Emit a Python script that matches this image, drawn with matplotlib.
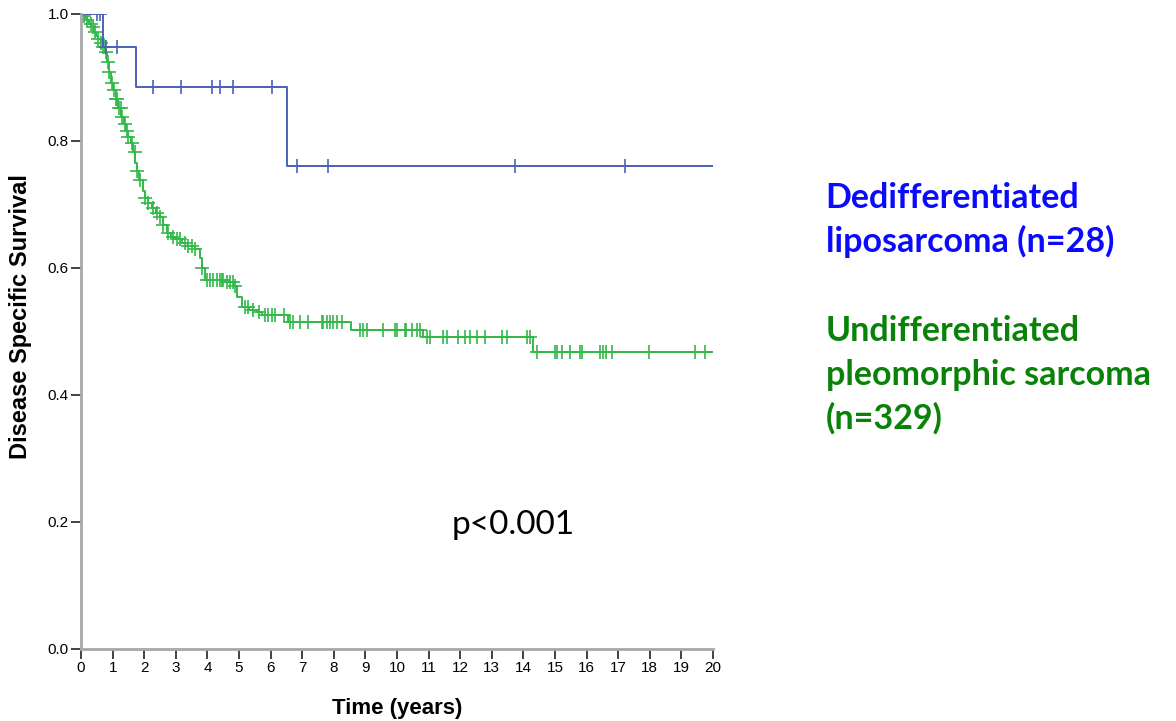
import numpy as np
import matplotlib
matplotlib.use("Agg")
import matplotlib.pyplot as plt

# Dedifferentiated liposarcoma (n=28): event times (years) and survival after each event
ddl_event_t = [0.70, 1.74, 6.52]
ddl_event_s = [0.948, 0.885, 0.761]
ddl_censor = [0.49, 0.60, 0.78, 1.15, 2.27, 3.15, 4.13, 4.40, 4.82, 6.03,
              6.82, 7.82, 13.73, 17.20]

# Undifferentiated pleomorphic sarcoma (n=329)
ups_event_t = [0.05, 0.12, 0.18, 0.25, 0.32, 0.40, 0.48, 0.55, 0.62, 0.70,
               0.76, 0.82, 0.88, 0.95, 1.02, 1.10, 1.18, 1.27, 1.35, 1.43,
               1.50, 1.58, 1.65, 1.72, 1.78, 1.85, 1.95, 2.03, 2.12, 2.24,
               2.38, 2.50, 2.60, 2.71, 2.85, 3.00, 3.20, 3.40, 3.60, 3.75,
               3.82, 3.92, 4.52, 4.84, 4.95, 5.09, 5.30, 5.58, 5.74, 6.55,
               8.55, 10.82, 14.30]
ups_event_s = [0.997, 0.994, 0.991, 0.985, 0.979, 0.972, 0.966, 0.960, 0.954, 0.948,
               0.940, 0.925, 0.908, 0.892, 0.880, 0.866, 0.852, 0.838, 0.826, 0.815,
               0.806, 0.797, 0.782, 0.766, 0.752, 0.738, 0.722, 0.710, 0.702, 0.694,
               0.687, 0.681, 0.668, 0.655, 0.649, 0.645, 0.640, 0.635, 0.630, 0.615,
               0.600, 0.581, 0.578, 0.571, 0.555, 0.539, 0.534, 0.531, 0.526, 0.515,
               0.503, 0.492, 0.468]
ups_censor = [0.10, 0.20, 0.30, 0.38, 0.45, 0.55, 0.62, 0.70, 0.75, 0.80,
              0.85, 0.90, 0.97, 1.05, 1.10, 1.15, 1.20, 1.25, 1.30, 1.38,
              1.45, 1.50, 1.60, 1.70, 1.78, 1.87, 2.03, 2.13, 2.29, 2.39,
              2.50, 2.60, 2.76, 2.92, 3.03, 3.13, 3.29, 3.40, 3.50, 3.61,
              3.82, 3.98, 4.08, 4.19, 4.29, 4.40, 4.45, 4.50, 4.61, 4.70,
              4.80, 4.87, 5.19, 5.29, 5.45, 5.62, 5.82, 5.93, 6.03, 6.14,
              6.43, 6.61, 6.72, 6.93, 7.19, 7.62, 7.67, 7.78, 7.88, 7.98,
              8.09, 8.25, 8.83, 8.93, 9.04, 9.57, 9.94, 9.99, 10.25, 10.30,
              10.47, 10.62, 10.73, 10.94, 11.04, 11.47, 11.57, 11.94, 12.15, 12.31,
              12.52, 12.78, 13.31, 13.47, 14.10, 14.21, 14.42, 15.00, 15.05, 15.21,
              15.47, 15.79, 15.84, 16.42, 16.53, 16.61, 16.79, 17.98, 19.43, 19.75]

x_ticks = list(range(0, 21))
y_ticks = [0.0, 0.2, 0.4, 0.6, 0.8, 1.0]

blue_line = '#4a62b8'
green_line = '#33b94a'


def km_curve(event_t, event_s, t_end):
    t = np.concatenate([[0.0], event_t, [t_end]])
    s = np.concatenate([[1.0], event_s, [event_s[-1]]])
    return t, s


def surv_at(times, event_t, event_s):
    idx = np.searchsorted(event_t, times, side='right')
    s = np.concatenate([[1.0], event_s])
    return s[idx]


fig = plt.figure(figsize=(11.76, 7.21), dpi=100)
ax = fig.add_axes([0.0689, 0.0999, 0.5374, 0.8807])

for ev_t, ev_s, cens, col in [(ups_event_t, ups_event_s, ups_censor, green_line),
                               (ddl_event_t, ddl_event_s, ddl_censor, blue_line)]:
    t, s = km_curve(ev_t, ev_s, 20)
    ax.step(t, s, where='post', color=col, lw=1.4)
    ax.plot(cens, surv_at(np.array(cens), ev_t, ev_s), '+', color=col,
            markersize=10, markeredgewidth=1.2)

ax.set_xlim(0, 20)
ax.set_ylim(0, 1.0)
ax.set_xticks(x_ticks)
ax.set_yticks(y_ticks)
ax.set_yticklabels([f"{v:.1f}" for v in y_ticks])

for side in ['top', 'right']:
    ax.spines[side].set_visible(False)
for side in ['left', 'bottom']:
    ax.spines[side].set_color('#a8a8a8')
    ax.spines[side].set_linewidth(2)

ax.tick_params(axis='both', direction='out', length=7, width=1.2, color='#222222',
               labelsize=11, pad=2)
for lab in ax.get_xticklabels() + ax.get_yticklabels():
    lab.set_family('Liberation Sans')

ax.set_xlabel('Time (years)', fontsize=16, fontweight='bold',
              family='Liberation Sans', labelpad=16)
ax.set_ylabel('Disease Specific Survival', fontsize=17, fontweight='bold',
              family='Liberation Sans')
ax.yaxis.set_label_coords(-0.077, 0.523)

ax.text(13.67, 0.195, 'p<0.001', fontsize=24, family='Lato', ha='center', va='center')

fig.text(0.702, 0.695, 'Dedifferentiated\nliposarcoma (n=28)', color='#0a0aff',
         fontsize=24.5, fontweight='bold', family='Lato', va='center', ha='left',
         linespacing=1.4)
fig.text(0.702, 0.48, 'Undifferentiated\npleomorphic sarcoma\n(n=329)', color='#0a820a',
         fontsize=24.5, fontweight='bold', family='Lato', va='center', ha='left',
         linespacing=1.45)

fig.savefig('out.png', dpi=100)
